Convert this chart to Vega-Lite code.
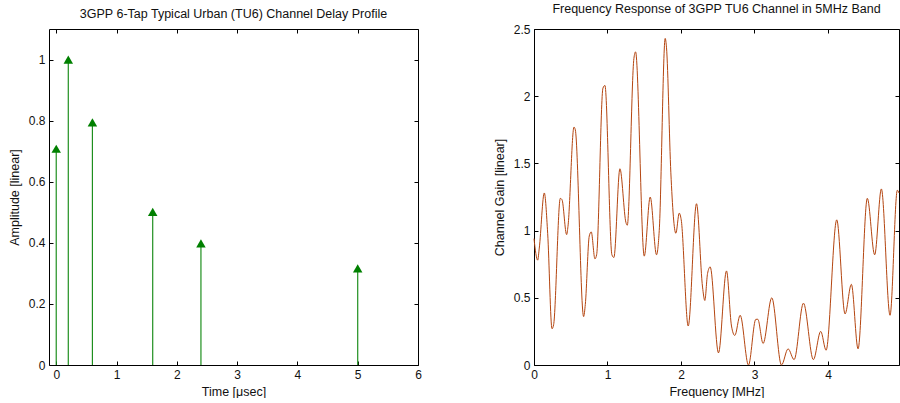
{
  "$schema": "https://vega.github.io/schema/vega-lite/v6.json",
  "background": "white",
  "padding": {"left": 7, "top": 2, "right": 0, "bottom": 0},
  "spacing": 70,
  "config": {
    "font": "Liberation Sans",
    "view": {"stroke": "black", "strokeWidth": 1},
    "title": {"fontSize": 12.5, "fontWeight": "normal", "color": "#111", "offset": 8, "anchor": "middle", "font": "Liberation Sans"},
    "axis": {
      "domain": false, "grid": false, "tickSize": -4, "tickColor": "black", "tickWidth": 1,
      "labelFont": "Liberation Sans", "labelFontSize": 12, "labelColor": "#111",
      "titleFont": "Liberation Sans", "titleFontSize": 12.5, "titleFontWeight": "normal", "titleColor": "#111",
      "labelFlush": false, "labelOverlap": false, "labelPadding": 8
    }
  },
  "hconcat": [
    {
      "width": 369, "height": 336,
      "title": "3GPP 6-Tap Typical Urban (TU6) Channel Delay Profile",
      "data": {"values": [
        {"t": 0.0, "a": 0.708},
        {"t": 0.2, "a": 1.0},
        {"t": 0.6, "a": 0.794},
        {"t": 1.6, "a": 0.501},
        {"t": 2.4, "a": 0.398},
        {"t": 5.0, "a": 0.316}
      ]},
      "layer": [
        {
          "mark": {"type": "rule", "color": "#1f8f1f", "strokeWidth": 1.2},
          "encoding": {
            "x": {"field": "t", "type": "quantitative", "scale": {"domain": [-0.12, 6], "nice": false},
                  "axis": {"orient": "bottom", "title": "Time [μsec]", "values": [0,1,2,3,4,5,6], "titlePadding": 5}},
            "y": {"field": "a", "type": "quantitative", "scale": {"domain": [0, 1.1], "nice": false},
                  "axis": {"orient": "left", "title": "Amplitude [linear]", "values": [0,0.2,0.4,0.6,0.8,1], "format": "~g", "titlePadding": 7}},
            "y2": {"datum": 0}
          }
        },
        {
          "mark": {"type": "point", "shape": "triangle-up", "filled": true, "color": "#008000", "opacity": 1, "size": 90},
          "encoding": {
            "x": {"field": "t", "type": "quantitative", "scale": {"domain": [-0.12, 6], "nice": false},
                  "axis": {"orient": "top", "title": null, "labels": false, "values": [0,1,2,3,4,5,6]}},
            "y": {"field": "a", "type": "quantitative", "scale": {"domain": [0, 1.1], "nice": false},
                  "axis": {"orient": "right", "title": null, "labels": false, "values": [0,0.2,0.4,0.6,0.8,1]}}
          }
        }
      ],
      "resolve": {"axis": {"x": "independent", "y": "independent"}}
    },
    {
      "width": 365, "height": 336,
      "title": "Frequency Response of 3GPP TU6 Channel in 5MHz Band",
      "data": {"values": [
        {"f": 0.000, "g": 0.94}, {"f": 0.050, "g": 0.78}, {"f": 0.072, "g": 0.87}, {"f": 0.140, "g": 1.28},
        {"f": 0.186, "g": 0.98}, {"f": 0.245, "g": 0.27}, {"f": 0.267, "g": 0.30}, {"f": 0.358, "g": 1.24},
        {"f": 0.381, "g": 1.23}, {"f": 0.444, "g": 0.97}, {"f": 0.462, "g": 1.03}, {"f": 0.544, "g": 1.77},
        {"f": 0.562, "g": 1.75}, {"f": 0.675, "g": 0.36}, {"f": 0.698, "g": 0.45}, {"f": 0.752, "g": 0.96},
        {"f": 0.779, "g": 0.99}, {"f": 0.829, "g": 0.79}, {"f": 0.852, "g": 0.82}, {"f": 0.938, "g": 2.06},
        {"f": 0.965, "g": 2.08}, {"f": 1.060, "g": 0.82}, {"f": 1.087, "g": 0.80}, {"f": 1.169, "g": 1.46},
        {"f": 1.251, "g": 1.06}, {"f": 1.269, "g": 1.04}, {"f": 1.359, "g": 2.28}, {"f": 1.382, "g": 2.33},
        {"f": 1.500, "g": 0.81}, {"f": 1.581, "g": 1.25}, {"f": 1.667, "g": 0.82}, {"f": 1.704, "g": 1.00},
        {"f": 1.785, "g": 2.43}, {"f": 1.803, "g": 2.36}, {"f": 1.862, "g": 1.43}, {"f": 1.930, "g": 0.98},
        {"f": 1.976, "g": 1.13}, {"f": 2.003, "g": 1.08}, {"f": 2.098, "g": 0.29}, {"f": 2.211, "g": 1.20},
        {"f": 2.293, "g": 0.58}, {"f": 2.324, "g": 0.48}, {"f": 2.361, "g": 0.68}, {"f": 2.397, "g": 0.73},
        {"f": 2.510, "g": 0.09}, {"f": 2.619, "g": 0.70}, {"f": 2.687, "g": 0.29}, {"f": 2.732, "g": 0.22},
        {"f": 2.805, "g": 0.37}, {"f": 2.918, "g": 0.00}, {"f": 3.018, "g": 0.34}, {"f": 3.045, "g": 0.34},
        {"f": 3.117, "g": 0.16}, {"f": 3.235, "g": 0.50}, {"f": 3.367, "g": 0.00}, {"f": 3.457, "g": 0.12},
        {"f": 3.539, "g": 0.04}, {"f": 3.666, "g": 0.46}, {"f": 3.801, "g": 0.04}, {"f": 3.901, "g": 0.25},
        {"f": 3.974, "g": 0.11}, {"f": 4.119, "g": 1.08}, {"f": 4.232, "g": 0.38}, {"f": 4.318, "g": 0.60},
        {"f": 4.409, "g": 0.12}, {"f": 4.535, "g": 1.24}, {"f": 4.635, "g": 0.82}, {"f": 4.726, "g": 1.31},
        {"f": 4.844, "g": 0.37}, {"f": 4.943, "g": 1.30}, {"f": 4.966, "g": 1.28}
      ]},
      "layer": [
        {
          "mark": {"type": "line", "color": "#b44510", "strokeWidth": 1, "interpolate": "monotone"},
          "encoding": {
            "x": {"field": "f", "type": "quantitative", "scale": {"domain": [0, 4.966], "nice": false},
                  "axis": {"orient": "bottom", "title": "Frequency [MHz]", "values": [0,1,2,3,4], "titlePadding": 5}},
            "y": {"field": "g", "type": "quantitative", "scale": {"domain": [0, 2.5], "nice": false},
                  "axis": {"orient": "left", "title": "Channel Gain [linear]", "values": [0,0.5,1,1.5,2,2.5], "format": "~g", "titlePadding": 7}}
          }
        },
        {
          "mark": {"type": "point", "opacity": 0, "size": 1},
          "encoding": {
            "x": {"field": "f", "type": "quantitative", "scale": {"domain": [0, 4.966], "nice": false},
                  "axis": {"orient": "top", "title": null, "labels": false, "values": [0,1,2,3,4]}},
            "y": {"field": "g", "type": "quantitative", "scale": {"domain": [0, 2.5], "nice": false},
                  "axis": {"orient": "right", "title": null, "labels": false, "values": [0,0.5,1,1.5,2,2.5]}}
          }
        }
      ],
      "resolve": {"axis": {"x": "independent", "y": "independent"}}
    }
  ]
}
